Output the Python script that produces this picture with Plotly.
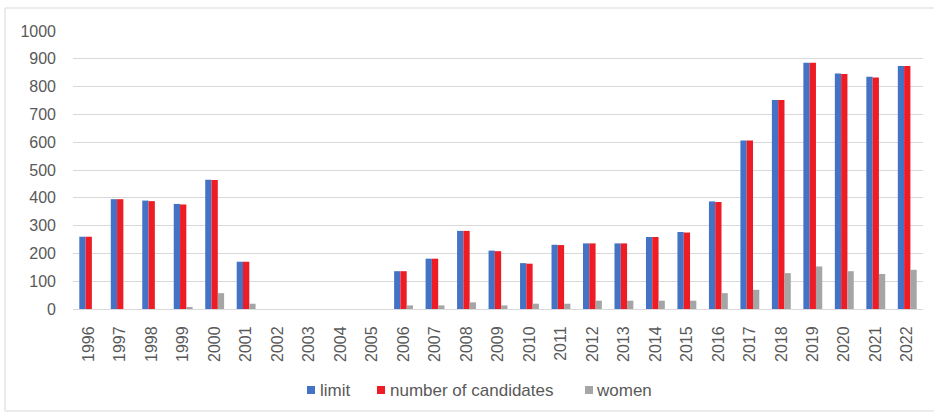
import plotly.graph_objects as go

years = [str(y) for y in range(1996, 2023)]
limit = [260, 395, 390, 378, 465, 170, None, None, None, None, 136, 181, 281, 210, 165, 231, 236, 236, 259, 277, 387, 606, 752, 886, 847, 835, 874]
candidates = [260, 395, 388, 376, 464, 170, None, None, None, None, 136, 181, 281, 208, 163, 230, 236, 236, 259, 275, 385, 606, 752, 886, 845, 833, 874]
women = [None, None, None, 6, 57, 19, None, None, None, None, 13, 13, 24, 13, 19, 19, 30, 30, 30, 30, 57, 69, 129, 153, 136, 126, 141]

series_names = ["limit", "number of candidates", "women"]
series_colors = ["#4472C4", "#EE1C25", "#A5A5A5"]

FONT = "Liberation Sans, Arial, sans-serif"
TXT = "#595959"

fig = go.Figure()
for name, vals, col in zip(series_names, [limit, candidates, women], series_colors):
    fig.add_bar(x=years, y=vals, name=name, marker_color=col, marker_line_width=0)

W, H = 934, 416
L, R, T, B = 73, 11, 31, 107
pw, ph = W - L - R, H - T - B

def px(x):
    return (x - L) / pw

def py(y):
    return (H - B - y) / ph

shapes = [dict(type="rect", xref="paper", yref="paper",
               x0=px(5), x1=px(940), y0=py(411), y1=py(8),
               line=dict(color="#d9d9d9", width=1), layer="below")]
annotations = []
# custom legend (Excel style)
leg_sq_x = [307, 377, 585]
leg_tx_x = [318, 388, 594]
leg_y = 390
for name, col, sx, tx in zip(series_names, series_colors, leg_sq_x, leg_tx_x):
    shapes.append(dict(type="rect", xref="paper", yref="paper",
                       x0=px(sx), x1=px(sx + 8), y0=py(leg_y + 4), y1=py(leg_y - 4),
                       fillcolor=col, line=dict(width=0)))
    annotations.append(dict(xref="paper", yref="paper", x=px(tx), y=py(leg_y),
                            xanchor="left", yanchor="middle", showarrow=False,
                            text=name, font=dict(family=FONT, size=17, color=TXT)))

fig.update_layout(
    width=W, height=H,
    margin=dict(l=L, r=R, t=T, b=B, autoexpand=False),
    paper_bgcolor="white", plot_bgcolor="white",
    barmode="group", bargap=0.4, bargroupgap=0,
    font=dict(family=FONT, size=16, color=TXT),
    showlegend=False,
    xaxis=dict(tickangle=-90, showgrid=False, showline=True, linecolor="#d9d9d9",
               ticks="", ticklabelstandoff=10, automargin=False,
               tickfont=dict(family=FONT, size=16, color=TXT)),
    yaxis=dict(range=[0, 1000], dtick=100, showgrid=True, gridcolor="#d9d9d9",
               zeroline=False, showline=False, ticks="", ticklabelstandoff=16,
               automargin=False, tickfont=dict(family=FONT, size=16, color=TXT)),
    shapes=shapes,
    annotations=annotations,
)

fig.write_html("out.html", config={"displayModeBar": False},
               post_script="document.body.style.margin='0';document.body.style.overflow='hidden';")
